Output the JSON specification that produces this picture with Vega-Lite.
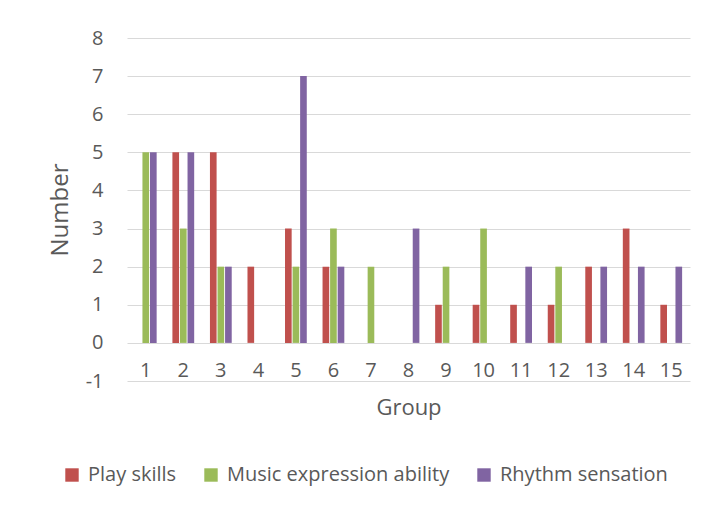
{
  "$schema": "https://vega.github.io/schema/vega-lite/v6.json",
  "width": 563,
  "height": 343,
  "autosize": {"type": "none"},
  "padding": {"left": 127, "top": 38, "right": 20, "bottom": 128},
  "background": "white",
  "config": {
    "view": {"stroke": null},
    "font": "Open Sans",
    "axis": {"labelColor": "#595959", "titleColor": "#595959", "titleFontWeight": "normal", "gridColor": "#D9D9D9", "gridWidth": 1}
  },
  "data": {
    "values": [
      {"Group": "1", "Series": "Play skills", "Number": 0},
      {"Group": "1", "Series": "Music expression ability", "Number": 5},
      {"Group": "1", "Series": "Rhythm sensation", "Number": 5},
      {"Group": "2", "Series": "Play skills", "Number": 5},
      {"Group": "2", "Series": "Music expression ability", "Number": 3},
      {"Group": "2", "Series": "Rhythm sensation", "Number": 5},
      {"Group": "3", "Series": "Play skills", "Number": 5},
      {"Group": "3", "Series": "Music expression ability", "Number": 2},
      {"Group": "3", "Series": "Rhythm sensation", "Number": 2},
      {"Group": "4", "Series": "Play skills", "Number": 2},
      {"Group": "4", "Series": "Music expression ability", "Number": 0},
      {"Group": "4", "Series": "Rhythm sensation", "Number": 0},
      {"Group": "5", "Series": "Play skills", "Number": 3},
      {"Group": "5", "Series": "Music expression ability", "Number": 2},
      {"Group": "5", "Series": "Rhythm sensation", "Number": 7},
      {"Group": "6", "Series": "Play skills", "Number": 2},
      {"Group": "6", "Series": "Music expression ability", "Number": 3},
      {"Group": "6", "Series": "Rhythm sensation", "Number": 2},
      {"Group": "7", "Series": "Play skills", "Number": 0},
      {"Group": "7", "Series": "Music expression ability", "Number": 2},
      {"Group": "7", "Series": "Rhythm sensation", "Number": 0},
      {"Group": "8", "Series": "Play skills", "Number": 0},
      {"Group": "8", "Series": "Music expression ability", "Number": 0},
      {"Group": "8", "Series": "Rhythm sensation", "Number": 3},
      {"Group": "9", "Series": "Play skills", "Number": 1},
      {"Group": "9", "Series": "Music expression ability", "Number": 2},
      {"Group": "9", "Series": "Rhythm sensation", "Number": 0},
      {"Group": "10", "Series": "Play skills", "Number": 1},
      {"Group": "10", "Series": "Music expression ability", "Number": 3},
      {"Group": "10", "Series": "Rhythm sensation", "Number": 0},
      {"Group": "11", "Series": "Play skills", "Number": 1},
      {"Group": "11", "Series": "Music expression ability", "Number": 0},
      {"Group": "11", "Series": "Rhythm sensation", "Number": 2},
      {"Group": "12", "Series": "Play skills", "Number": 1},
      {"Group": "12", "Series": "Music expression ability", "Number": 2},
      {"Group": "12", "Series": "Rhythm sensation", "Number": 0},
      {"Group": "13", "Series": "Play skills", "Number": 2},
      {"Group": "13", "Series": "Music expression ability", "Number": 0},
      {"Group": "13", "Series": "Rhythm sensation", "Number": 2},
      {"Group": "14", "Series": "Play skills", "Number": 3},
      {"Group": "14", "Series": "Music expression ability", "Number": 0},
      {"Group": "14", "Series": "Rhythm sensation", "Number": 2},
      {"Group": "15", "Series": "Play skills", "Number": 1},
      {"Group": "15", "Series": "Music expression ability", "Number": 0},
      {"Group": "15", "Series": "Rhythm sensation", "Number": 2}
    ]
  },
  "mark": {"type": "bar"},
  "encoding": {
    "x": {
      "field": "Group",
      "type": "ordinal",
      "sort": null,
      "scale": {"paddingInner": 0.42, "paddingOuter": 0.21},
      "axis": {
        "title": "Group",
        "titleFontSize": 22,
        "titleY": 26,
        "titleBaseline": "middle",
        "labelAngle": 0,
        "labelFontSize": 20,
        "labelPadding": -21,
        "labelBaseline": "top",
        "ticks": false,
        "domain": false,
        "grid": false
      }
    },
    "xOffset": {
      "field": "Series",
      "type": "nominal",
      "sort": ["Play skills", "Music expression ability", "Rhythm sensation"],
      "scale": {"paddingInner": 0.12}
    },
    "y": {
      "field": "Number",
      "type": "quantitative",
      "scale": {"domain": [-1, 8], "nice": false},
      "axis": {
        "title": "Number",
        "titleFontSize": 24,
        "titleX": -67,
        "titleBaseline": "middle",
        "values": [-1, 0, 1, 2, 3, 4, 5, 6, 7, 8],
        "labelExpr": "replace(datum.label, '−', '-')",
        "labelFontSize": 20,
        "labelPadding": 24,
        "ticks": false,
        "domain": false,
        "grid": true
      }
    },
    "color": {
      "field": "Series",
      "type": "nominal",
      "sort": ["Play skills", "Music expression ability", "Rhythm sensation"],
      "scale": {"range": ["#C0504D", "#9BBB59", "#8064A2"]},
      "legend": {
        "title": null,
        "orient": "none",
        "legendX": -65,
        "legendY": 427,
        "direction": "horizontal",
        "symbolType": "square",
        "symbolSize": 180,
        "symbolStrokeWidth": 0,
        "labelFontSize": 20,
        "labelLimit": 400,
        "labelColor": "#595959",
        "columnPadding": 24,
        "labelOffset": 6
      }
    }
  }
}
